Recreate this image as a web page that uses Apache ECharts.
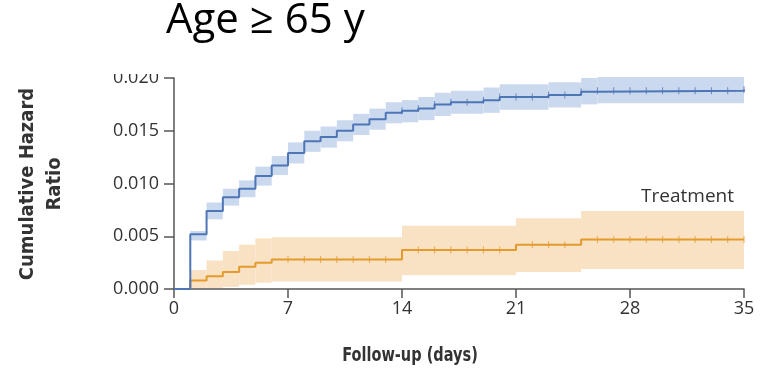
<!DOCTYPE html>
<html>
<head>
<meta charset="utf-8">
<script src="https://cdn.jsdelivr.net/npm/echarts@6/dist/echarts.min.js"></script>
<style>
  html, body { margin: 0; padding: 0; background: #fff; }
  #chart { width: 769px; height: 371px; }
</style>
</head>
<body>
<div id="chart"></div>
<script>
// step days (value holds from that day until the next one)
var blueDays  = [0, 1, 2, 3, 4, 5, 6, 7, 8, 9, 10, 11, 12, 13, 14, 15, 16, 17, 19, 20, 23, 25, 26, 35];
var blueVals  = [0, 0.0052, 0.0074, 0.0087, 0.0095, 0.0107, 0.0117, 0.0129, 0.0140, 0.0144, 0.0150, 0.0156, 0.0161, 0.0167, 0.0169, 0.0171, 0.0175, 0.0177, 0.0179, 0.0182, 0.0184, 0.0187, 0.0188, 0.0189];
var blueLow   = [0, 0.0046, 0.0066, 0.0079, 0.0087, 0.0098, 0.0108, 0.0119, 0.0130, 0.0134, 0.0140, 0.0146, 0.0151, 0.0157, 0.0158, 0.0160, 0.0164, 0.0166, 0.0167, 0.0170, 0.0172, 0.0175, 0.0176, 0.0176];
var blueHigh  = [0, 0.0055, 0.0082, 0.0095, 0.0103, 0.0116, 0.0126, 0.0139, 0.0150, 0.0154, 0.0160, 0.0166, 0.0171, 0.0177, 0.0179, 0.0182, 0.0186, 0.0188, 0.0191, 0.0194, 0.0196, 0.0200, 0.0201, 0.0201];

var orangeDays = [0, 1, 2, 3, 4, 5, 6, 14, 21, 25, 35];
var orangeVals = [0, 0.0008, 0.0012, 0.0016, 0.0021, 0.0025, 0.0028, 0.0037, 0.0042, 0.0047, 0.0047];
var orangeLow  = [0, 0.0001, 0.0001, 0.0002, 0.0004, 0.0006, 0.0007, 0.0013, 0.0016, 0.0019, 0.0019];
var orangeHigh = [0, 0.0018, 0.0027, 0.0036, 0.0042, 0.0048, 0.0049, 0.0060, 0.0067, 0.0074, 0.0074];

// censoring marks (days)
var blueCensor   = [14, 15, 16, 17, 18, 19, 20, 21, 22, 23, 24, 25, 26, 27, 28, 29, 30, 31, 32, 33, 34, 35];
var orangeCensor = [7, 8, 9, 10, 11, 12, 13, 15, 16, 17, 18, 19, 20, 22, 23, 24, 26, 27, 28, 29, 30, 31, 32, 33, 34, 35];

var xTicks = [0, 7, 14, 21, 28, 35];

var chart = echarts.init(document.getElementById('chart'));

function stepPoints(days, vals) {
  return days.map(function (d, i) { return [d, vals[i]]; });
}

function bandRects(days, low, high) {
  var out = [];
  for (var i = 0; i < days.length - 1; i++) {
    if (high[i] > 0) out.push([days[i], days[i + 1], low[i], high[i]]);
  }
  return out;
}

function valueAt(days, vals, d) {
  var v = vals[0];
  for (var i = 0; i < days.length; i++) {
    if (days[i] <= d) v = vals[i];
  }
  return v;
}

function censorPoints(list, days, vals) {
  return list.map(function (d) { return [d, valueAt(days, vals, d)]; });
}

function bandItem(color) {
  return function (params, api) {
    var p0 = api.coord([api.value(0), api.value(3)]);
    var p1 = api.coord([api.value(1), api.value(2)]);
    return {
      type: 'rect',
      shape: { x: p0[0], y: p0[1], width: p1[0] - p0[0], height: p1[1] - p0[1] },
      style: { fill: color }
    };
  };
}

var tickFont = { fontFamily: 'Open Sans', fontSize: 18, color: '#333' };

chart.setOption({
  animation: false,
  grid: { left: 174, right: 25, top: 78, bottom: 82 },
  xAxis: {
    type: 'value',
    min: 0,
    max: 35,
    interval: 7,
    axisLine: { lineStyle: { color: '#555', width: 1.5 } },
    axisTick: { length: 9, lineStyle: { color: '#555', width: 1.5 } },
    axisLabel: Object.assign({ margin: 11, customValues: xTicks }, tickFont),
    splitLine: { show: false }
  },
  yAxis: {
    type: 'value',
    min: 0,
    max: 0.02,
    interval: 0.005,
    axisLine: { show: true, lineStyle: { color: '#555', width: 1.5 } },
    axisTick: { show: true, length: 10, lineStyle: { color: '#555', width: 1.5 } },
    axisLabel: Object.assign({
      margin: 15,
      formatter: function (v) { return v.toFixed(3); }
    }, tickFont),
    splitLine: { show: false }
  },
  series: [
    {
      type: 'custom',
      renderItem: bandItem('#f9e1c3'),
      data: bandRects(orangeDays, orangeLow, orangeHigh),
      z: 1
    },
    {
      type: 'custom',
      renderItem: bandItem('#cbd9ef'),
      data: bandRects(blueDays, blueLow, blueHigh),
      z: 1
    },
    {
      type: 'line',
      step: 'end',
      data: stepPoints(orangeDays, orangeVals),
      showSymbol: false,
      lineStyle: { color: '#e39b2d', width: 2 },
      z: 3
    },
    {
      type: 'line',
      step: 'end',
      data: stepPoints(blueDays, blueVals),
      showSymbol: false,
      lineStyle: { color: '#4e76b6', width: 2 },
      z: 4
    },
    {
      type: 'scatter',
      data: censorPoints(orangeCensor, orangeDays, orangeVals),
      symbol: 'rect',
      symbolSize: [1, 7],
      itemStyle: { color: '#e39b2d' },
      z: 3
    },
    {
      type: 'scatter',
      data: censorPoints(blueCensor, blueDays, blueVals),
      symbol: 'rect',
      symbolSize: [1, 7],
      itemStyle: { color: '#4e76b6' },
      z: 4
    }
  ],
  graphic: [
    {
      // the top tick label is cut off in the source figure
      type: 'rect',
      shape: { x: 90, y: 48, width: 80, height: 26 },
      style: { fill: '#fff' },
      z: 100
    },
    {
      type: 'text',
      left: 166,
      top: 0,
      style: { text: 'Age \u2265 65 y', font: '42px "Open Sans"', fill: '#000' },
      z: 101
    },
    {
      type: 'text',
      x: 41,
      y: 184,
      rotation: Math.PI / 2,
      style: {
        text: 'Cumulative Hazard\nRatio',
        font: 'bold 20px "DejaVu Sans Condensed"',
        fill: '#333',
        align: 'center',
        verticalAlign: 'middle',
        lineHeight: 27
      }
    },
    {
      type: 'text',
      x: 410,
      y: 356,
      scaleX: 0.85,
      style: {
        text: 'Follow-up (days)',
        font: 'bold 19px "DejaVu Sans Condensed"',
        fill: '#333',
        align: 'center',
        verticalAlign: 'middle'
      }
    },
    {
      type: 'text',
      x: 734,
      y: 197,
      style: {
        text: 'Treatment',
        font: '19px "Open Sans"',
        fill: '#333',
        align: 'right',
        verticalAlign: 'middle'
      }
    }
  ]
});
</script>
</body>
</html>
